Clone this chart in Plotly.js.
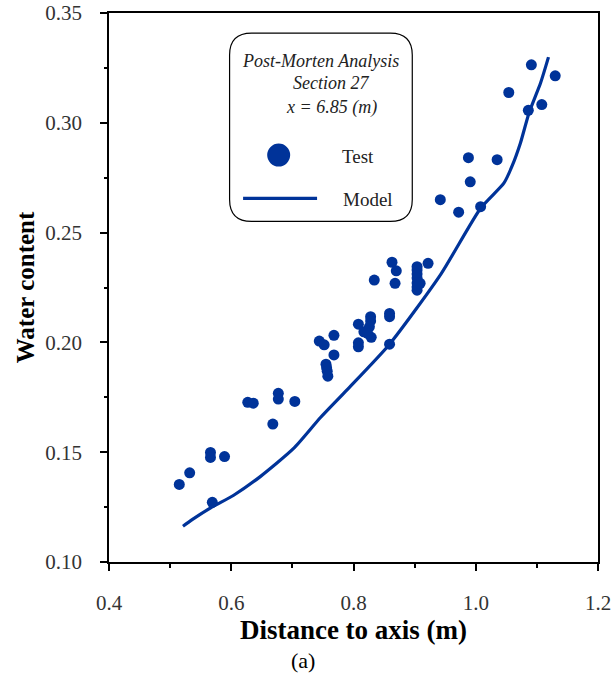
<!DOCTYPE html>
<html>
<head>
<meta charset="utf-8">
<script src="https://cdn.plot.ly/plotly-3.0.1.min.js"></script>
<style>html,body{margin:0;padding:0;background:#fff;}</style>
</head>
<body>
<div id="chart"></div>
<script>
// Test data: distance to axis (m) and water content
const testX = [0.515, 0.532, 0.566, 0.566, 0.589, 0.569, 0.627, 0.636, 0.677, 0.677, 0.704, 0.668,
  0.744, 0.752, 0.768, 0.768, 0.755, 0.756, 0.757, 0.758,
  0.808, 0.808, 0.808, 0.817, 0.828, 0.828, 0.826, 0.829, 0.823, 0.834,
  0.859, 0.859, 0.859, 0.863, 0.870, 0.868,
  0.904, 0.904, 0.904, 0.904, 0.904, 0.904, 0.904, 0.909, 0.922,
  0.942, 0.972, 1.008, 0.991, 0.988, 1.035, 1.054, 1.086, 1.108, 1.091, 1.130];
const testY = [0.1353, 0.1406, 0.1499, 0.1476, 0.1480, 0.1272, 0.1727, 0.1723, 0.1768, 0.1742, 0.1731, 0.1628,
  0.2006, 0.1989, 0.2032, 0.1943, 0.1901, 0.1885, 0.1869, 0.1846,
  0.2083, 0.1998, 0.1980, 0.2048, 0.2117, 0.2098, 0.2071, 0.2023, 0.2041, 0.2284,
  0.2132, 0.2117, 0.1992, 0.2365, 0.2326, 0.2269,
  0.2345, 0.2330, 0.2311, 0.2293, 0.2270, 0.2252, 0.2238, 0.2269, 0.2360,
  0.2650, 0.2593, 0.2618, 0.2731, 0.2841, 0.2832, 0.3138, 0.3057, 0.3083, 0.3264, 0.3214];

// Model curve
const modelX = [0.521, 0.536, 0.569, 0.604, 0.648, 0.702, 0.746, 0.789, 0.859, 0.943, 1.008, 1.046, 1.059, 1.073, 1.087, 1.106, 1.119];
const modelY = [0.1163, 0.1193, 0.1251, 0.1304, 0.1390, 0.1517, 0.1658, 0.1783, 0.1992, 0.2311, 0.2611, 0.2725, 0.2800, 0.2907, 0.3044, 0.3181, 0.3299];

// Text
const xTitle = 'Distance to axis (m)';
const yTitle = 'Water content';
const legendLines = ['Post-Morten Analysis', 'Section 27', 'x = 6.85 (m)'];
const legendNames = ['Test', 'Model'];
const panelLabel = '(a)';

const BLUE = '#003399';
const FONT = 'Liberation Serif';

const traces = [
  {x: modelX, y: modelY, type: 'scatter', mode: 'lines', name: legendNames[1],
   line: {color: BLUE, width: 3.2, shape: 'spline', smoothing: 0.6}, showlegend: false, hoverinfo: 'skip'},
  {x: testX, y: testY, type: 'scatter', mode: 'markers', name: legendNames[0],
   marker: {color: BLUE, size: 11, line: {width: 0}}, showlegend: false}
];

// legend box geometry in paper coords
const bx0 = 0.2466, bx1 = 0.6202, by0 = 0.6205, by1 = 0.9635;
const rx = 0.045, ry = 0.040;
const boxPath = `M ${bx0+rx},${by1} L ${bx1-rx},${by1} Q ${bx1},${by1} ${bx1},${by1-ry} ` +
  `L ${bx1},${by0+ry} Q ${bx1},${by0} ${bx1-rx},${by0} L ${bx0+rx},${by0} ` +
  `Q ${bx0},${by0} ${bx0},${by0+ry} L ${bx0},${by1-ry} Q ${bx0},${by1} ${bx0+rx},${by1} Z`;

const layout = {
  width: 612, height: 673,
  margin: {l: 109, r: 14, t: 13, b: 111},
  paper_bgcolor: '#fff', plot_bgcolor: '#fff',
  showlegend: false,
  font: {family: FONT, color: '#000'},
  xaxis: {
    range: [0.4, 1.2], dtick: 0.2, tick0: 0.4, tickformat: '.1f',
    showgrid: false, zeroline: false,
    showline: true, linecolor: '#000', linewidth: 1.5, mirror: true,
    ticks: 'outside', ticklen: 7, tickwidth: 1.5, tickcolor: '#000',
    minor: {dtick: 0.1, ticks: 'outside', ticklen: 4, tickwidth: 1.5, tickcolor: '#000', showgrid: false},
    tickfont: {family: FONT, size: 21, color: '#333'},
    ticklabelstandoff: 14,
    title: {text: '<b>' + xTitle + '</b>', font: {family: FONT, size: 27, color: '#000'}, standoff: 3}
  },
  yaxis: {
    range: [0.10, 0.35], dtick: 0.05, tick0: 0.10, tickformat: '.2f',
    showgrid: false, zeroline: false,
    showline: true, linecolor: '#000', linewidth: 1.5, mirror: true,
    ticks: 'outside', ticklen: 7, tickwidth: 1.5, tickcolor: '#000',
    minor: {dtick: 0.025, ticks: 'outside', ticklen: 3, tickwidth: 1.5, tickcolor: '#000', showgrid: false},
    tickfont: {family: FONT, size: 21, color: '#333'},
    ticklabelstandoff: 14,
    title: {text: '<b>' + yTitle + '</b>', font: {family: FONT, size: 25, color: '#000'}, standoff: 4}
  },
  shapes: [
    {type: 'path', xref: 'paper', yref: 'paper', path: boxPath,
     line: {color: '#000', width: 1.2}, fillcolor: 'rgba(255,255,255,1)', layer: 'above'},
    {type: 'circle', xref: 'paper', yref: 'paper', xsizemode: 'pixel', ysizemode: 'pixel',
     xanchor: 0.347, yanchor: 0.7412, x0: -11.5, x1: 11.5, y0: -11.5, y1: 11.5,
     fillcolor: BLUE, line: {width: 0}, layer: 'above'},
    {type: 'line', xref: 'paper', yref: 'paper', x0: 0.2742, x1: 0.4255, y0: 0.6623, y1: 0.6623,
     line: {color: BLUE, width: 3.3}, layer: 'above'}
  ],
  annotations: [
    {xref: 'paper', yref: 'paper', x: 0.4322, y: 0.9120, text: '<i>' + legendLines[0] + '</i>', showarrow: false,
     font: {family: FONT, size: 18, color: '#222'}, xanchor: 'center', yanchor: 'middle'},
    {xref: 'paper', yref: 'paper', x: 0.4547, y: 0.8720, text: '<i>' + legendLines[1] + '</i>', showarrow: false,
     font: {family: FONT, size: 18, color: '#222'}, xanchor: 'center', yanchor: 'middle'},
    {xref: 'paper', yref: 'paper', x: 0.4547, y: 0.8270, text: '<i>' + legendLines[2] + '</i>', showarrow: false,
     font: {family: FONT, size: 18, color: '#222'}, xanchor: 'center', yanchor: 'middle'},
    {xref: 'paper', yref: 'paper', x: 0.5099, y: 0.7394, text: legendNames[0], showarrow: false,
     font: {family: FONT, size: 19, color: '#222'}, xanchor: 'center', yanchor: 'middle'},
    {xref: 'paper', yref: 'paper', x: 0.5293, y: 0.6610, text: legendNames[1], showarrow: false,
     font: {family: FONT, size: 19, color: '#222'}, xanchor: 'center', yanchor: 'middle'},
    {xref: 'paper', yref: 'paper', x: 0.3975, y: -0.1792, text: panelLabel, showarrow: false,
     font: {family: FONT, size: 22, color: '#000'}, xanchor: 'center', yanchor: 'middle'}
  ]
};

Plotly.newPlot('chart', traces, layout, {displayModeBar: false});
</script>
</body>
</html>
